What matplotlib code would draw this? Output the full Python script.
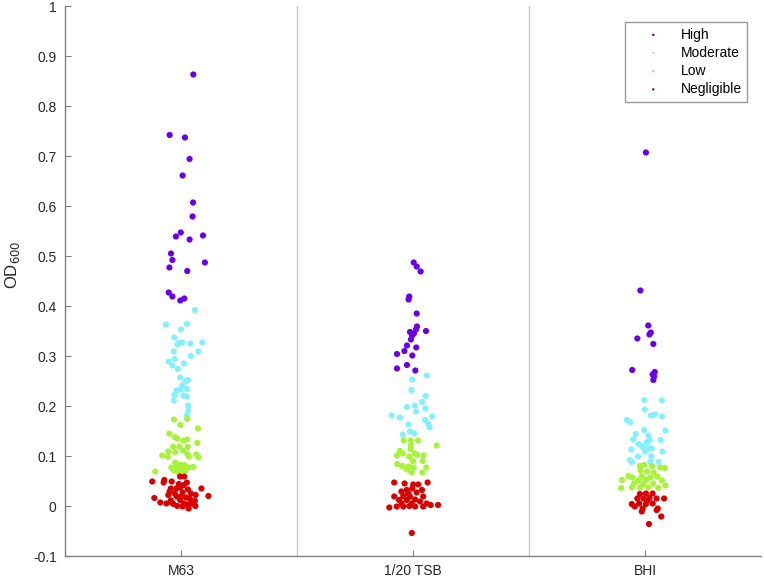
import matplotlib
matplotlib.use("Agg")
import matplotlib.pyplot as plt

plt.rcParams['font.family'] = ['Liberation Sans', 'DejaVu Sans']

media = ['M63', '1/20 TSB', 'BHI']
categories = ['High', 'Moderate', 'Low', 'Negligible']
colors = ['#6a00e4', '#84f0ff', '#a8f23a', '#d80000']

# OD600 values per category, x = medium index + jitter
high_x = [1.053, 0.951, 1.017, 1.037, 1.007, 1.052, 1.050, 0.999, 0.978, 1.095,
          1.037, 0.957, 0.963, 1.103, 0.950, 1.027, 0.947, 0.963, 0.997, 1.014,
          2.003, 2.016, 2.033, 1.984, 1.981, 2.016, 2.017, 2.013, 2.056, 1.987,
          2.004, 1.996, 1.991, 1.974, 2.014, 1.963, 1.931, 1.997, 1.931, 1.974,
          2.010,
          3.004, 2.980, 3.014, 3.025, 3.019, 2.967, 3.036, 2.945, 3.042, 3.033,
          3.039, 3.036]
high_y = [0.863, 0.742, 0.737, 0.694, 0.661, 0.607, 0.579, 0.547, 0.539, 0.541,
          0.533, 0.505, 0.492, 0.487, 0.477, 0.470, 0.427, 0.419, 0.411, 0.415,
          0.487, 0.479, 0.469, 0.419, 0.413, 0.385, 0.359, 0.353, 0.350, 0.348,
          0.345, 0.341, 0.333, 0.321, 0.317, 0.310, 0.304, 0.301, 0.275, 0.282,
          0.271,
          0.707, 0.431, 0.361, 0.347, 0.343, 0.335, 0.324, 0.272, 0.268, 0.263,
          0.259, 0.252]

moderate_x = [1.060, 0.935, 1.026, 1.000, 0.971, 0.991, 1.006, 1.040, 1.092, 0.984,
              0.969, 1.075, 1.042, 0.973, 0.947, 1.013, 0.963, 0.986, 0.997, 1.030,
              1.020, 1.006, 1.026, 0.996, 0.981, 0.971, 1.010, 1.025, 0.969, 1.031,
              1.031, 1.025,
              1.997, 2.059, 1.993, 2.055, 1.974, 2.009, 2.039, 2.053, 2.013, 1.908,
              1.943, 2.083, 2.052, 2.065, 1.981, 2.072, 1.987, 2.006, 1.956,
              2.997, 3.073, 2.999, 3.026, 3.043, 3.073, 2.922, 2.935, 2.997, 3.088,
              2.960, 3.014, 2.950, 3.020, 3.068, 2.973, 3.007, 2.988, 3.013, 2.941,
              3.029, 3.000, 3.075, 2.970, 3.027, 2.935, 2.944, 3.023, 3.059]
moderate_y = [0.392, 0.363, 0.364, 0.353, 0.337, 0.327, 0.327, 0.325, 0.327, 0.323,
              0.309, 0.309, 0.300, 0.294, 0.289, 0.285, 0.281, 0.274, 0.257, 0.252,
              0.249, 0.241, 0.234, 0.233, 0.231, 0.222, 0.221, 0.219, 0.211, 0.201,
              0.190, 0.181,
              0.253, 0.261, 0.232, 0.220, 0.198, 0.201, 0.208, 0.195, 0.189, 0.181,
              0.177, 0.179, 0.172, 0.165, 0.163, 0.157, 0.149, 0.145, 0.143,
              0.212, 0.211, 0.193, 0.181, 0.183, 0.179, 0.172, 0.168, 0.152, 0.151,
              0.144, 0.141, 0.133, 0.132, 0.132, 0.124, 0.127, 0.119, 0.115, 0.113,
              0.115, 0.109, 0.109, 0.099, 0.100, 0.092, 0.088, 0.089, 0.088]

low_x = [0.970, 1.027, 0.997, 1.073, 0.950, 0.974, 0.983, 1.027, 1.010, 1.070,
         0.966, 0.993, 1.029, 0.945, 0.975, 1.009, 0.919, 0.943, 1.027, 1.033,
         1.066, 1.076, 0.975, 0.997, 1.014, 0.958, 0.981, 1.033, 1.053, 0.969,
         1.001, 1.019, 0.889, 0.988,
         1.960, 1.991, 2.022, 1.991, 2.102, 1.990, 1.943, 1.956, 1.931, 2.007,
         2.019, 2.046, 1.983, 2.000, 2.042, 1.932, 1.953, 1.981, 2.003, 2.057,
         1.974, 1.994, 2.040,
         2.978, 2.997, 3.030, 3.065, 3.085, 2.981, 3.009, 3.037, 2.928, 2.945,
         2.986, 3.022, 3.053, 2.901, 2.971, 3.004, 3.073, 2.953, 2.993, 3.036,
         3.088, 2.897, 2.943, 2.978, 3.014, 3.057]
low_y = [0.173, 0.174, 0.162, 0.155, 0.145, 0.138, 0.135, 0.133, 0.131, 0.126,
         0.119, 0.119, 0.118, 0.109, 0.108, 0.111, 0.101, 0.098, 0.104, 0.099,
         0.103, 0.097, 0.087, 0.082, 0.082, 0.077, 0.077, 0.077, 0.078, 0.071,
         0.071, 0.071, 0.069, 0.067,
         0.131, 0.131, 0.131, 0.122, 0.121, 0.114, 0.110, 0.105, 0.101, 0.105,
         0.102, 0.101, 0.099, 0.090, 0.090, 0.084, 0.080, 0.079, 0.077, 0.077,
         0.073, 0.067, 0.067,
         0.080, 0.082, 0.080, 0.077, 0.076, 0.071, 0.069, 0.067, 0.060, 0.057,
         0.059, 0.057, 0.059, 0.052, 0.051, 0.052, 0.051, 0.045, 0.044, 0.045,
         0.041, 0.036, 0.037, 0.037, 0.037, 0.036]

negligible_x = [0.876, 0.928, 0.925, 0.960, 0.996, 1.014, 0.991, 1.025, 0.956, 0.996,
                1.030, 1.088, 0.951, 0.973, 1.007, 1.043, 1.063, 1.118, 0.885, 0.981,
                1.022, 1.039, 0.956, 0.996, 1.060, 0.911, 0.937, 0.967, 0.984, 1.007,
                1.033, 1.062, 0.960, 1.012, 1.027, 0.980, 1.013, 0.945, 1.001, 1.047,
                1.919, 1.964, 2.001, 2.023, 2.063, 1.997, 2.039, 1.973, 1.950, 2.016,
                1.919, 1.958, 1.987, 2.044, 1.940, 1.973, 2.009, 2.030, 2.059, 2.076,
                1.898, 1.930, 1.958, 1.984, 2.009, 2.044, 2.108, 1.994, 1.951, 1.980,
                1.995,
                2.978, 3.004, 3.033, 2.967, 2.993, 3.019, 3.050, 3.082, 2.943, 2.975,
                3.004, 3.033, 2.956, 2.990, 3.055, 2.986, 3.050, 3.070, 3.017, 3.010]
negligible_y = [0.049, 0.052, 0.047, 0.049, 0.059, 0.059, 0.044, 0.047, 0.035, 0.037,
                0.033, 0.035, 0.029, 0.025, 0.027, 0.025, 0.022, 0.020, 0.016, 0.019,
                0.017, 0.014, 0.011, 0.012, 0.010, 0.007, 0.005, 0.004, 0.000, -0.001,
                -0.005, 0.000, 0.007, 0.005, 0.003, 0.035, 0.042, 0.022, 0.019, 0.005,
                0.047, 0.045, 0.043, 0.043, 0.047, 0.035, 0.032, 0.032, 0.029, 0.027,
                0.019, 0.020, 0.019, 0.019, 0.012, 0.012, 0.013, 0.009, 0.005, 0.002,
                -0.003, -0.001, -0.001, 0.000, -0.001, -0.001, 0.002, 0.005, 0.005, 0.025,
                -0.054,
                0.024, 0.025, 0.025, 0.015, 0.015, 0.016, 0.015, 0.015, 0.004, 0.005,
                0.004, 0.005, -0.001, -0.005, -0.005, -0.011, -0.008, -0.021, -0.036, 0.011]

yticks = [-0.1, 0, 0.1, 0.2, 0.3, 0.4, 0.5, 0.6, 0.7, 0.8, 0.9, 1]
ytick_labels = ['-0.1', '0', '0.1', '0.2', '0.3', '0.4', '0.5', '0.6', '0.7', '0.8', '0.9', '1']

fig = plt.figure(figsize=(7.64, 5.8), dpi=100)
ax = fig.add_axes([65 / 764, 24 / 580, 696 / 764, 550 / 580])

xs = [high_x, moderate_x, low_x, negligible_x]
ys = [high_y, moderate_y, low_y, negligible_y]
for x, y, c, lab in zip(xs, ys, colors, categories):
    ax.scatter(x, y, s=20, c=c, edgecolors='none', label=lab, zorder=3)

for sep in [1.5, 2.5]:
    ax.axvline(sep, color='#c8c8c8', lw=1, zorder=1)

ax.set_xlim(0.5, 3.5)
ax.set_ylim(-0.1, 1)
ax.set_xticks([1, 2, 3])
ax.set_xticklabels(media)
ax.set_yticks(yticks)
ax.set_yticklabels(ytick_labels)

for side in ['top', 'right']:
    ax.spines[side].set_visible(False)
for side in ['left', 'bottom']:
    ax.spines[side].set_color('#808080')
    ax.spines[side].set_linewidth(1)
ax.tick_params(direction='in', length=4, color='#808080', labelsize=10,
               labelcolor='#262626')
ax.tick_params(axis='y', pad=6)
ax.tick_params(axis='x', pad=6)

ax.set_ylabel('OD$_{600}$', fontsize=12, color='#262626')
ax.yaxis.set_label_coords(-0.062, 0.53)

leg = ax.legend(loc='upper right', bbox_to_anchor=(0.98, 0.971), borderaxespad=0,
                fontsize=10, markerscale=0.4, frameon=True, fancybox=False,
                borderpad=0.4, handlelength=3.3, handletextpad=0.3, labelspacing=0.3)
leg.get_frame().set_edgecolor('#808080')
leg.get_frame().set_linewidth(1)

fig.savefig('out.png', dpi=100)
